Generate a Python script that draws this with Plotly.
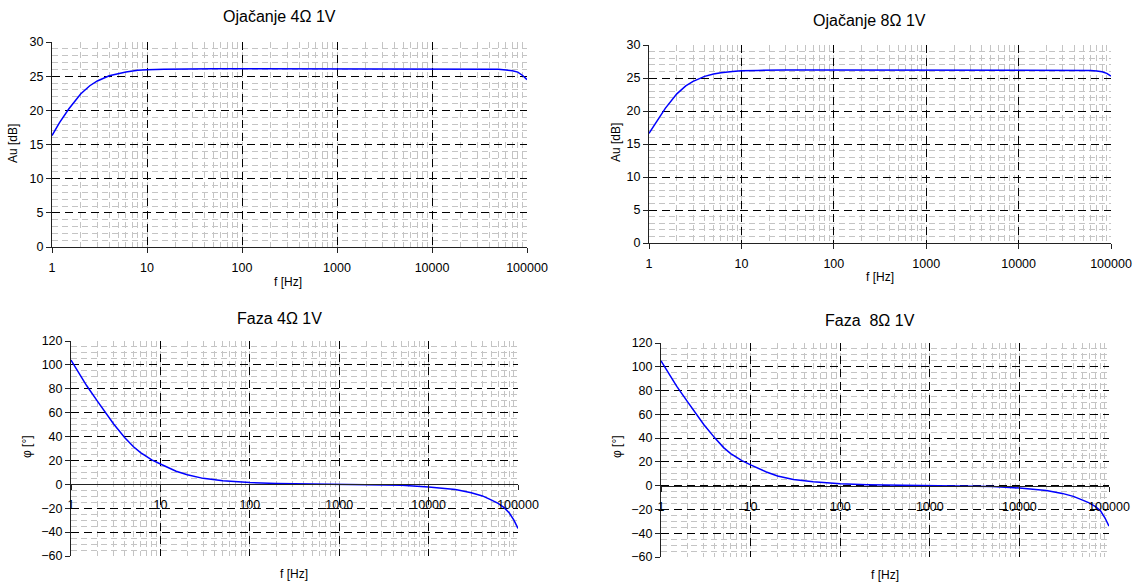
import plotly.graph_objects as go

# ---------------- data ----------------
freq = [1, 1.2, 1.5, 2, 2.5, 3, 4, 5, 6, 8, 10, 15, 20, 30, 50, 100, 200, 500,
        1000, 2000, 5000, 10000, 20000, 30000, 40000, 50000, 60000, 70000,
        80000, 90000, 100000]
gain_4ohm = [16.3, 18.2, 20.2, 22.4, 23.6, 24.3, 25.05, 25.4, 25.6, 25.85, 25.95,
             26.0, 26.05, 26.1, 26.1, 26.1, 26.1, 26.1, 26.1, 26.1, 26.1, 26.1,
             26.1, 26.1, 26.05, 26.0, 25.9, 25.8, 25.6, 25.1, 24.5]
gain_8ohm = [16.6, 18.4, 20.4, 22.6, 23.8, 24.5, 25.25, 25.6, 25.8, 26.0, 26.1,
             26.15, 26.2, 26.2, 26.2, 26.2, 26.2, 26.2, 26.2, 26.2, 26.2, 26.2,
             26.2, 26.2, 26.2, 26.15, 26.15, 26.05, 25.95, 25.7, 25.3]
phase_4ohm = [104, 94.5, 82.5, 69, 58.5, 50.5, 39, 31.5, 26.5, 20.5, 17, 11, 8,
              5, 3, 1.5, 0.8, 0.3, 0.1, -0.2, -0.8, -2.2, -4.3, -7, -9.7, -13,
              -16, -19.5, -24, -30, -37]
phase_8ohm = [105, 95.5, 83.5, 70, 59.5, 51.5, 40, 32, 27, 21, 17.5, 11.5, 8.2,
              5.2, 3.2, 1.6, 0.8, 0.3, 0.1, -0.2, -0.7, -2, -4, -6.5, -9, -12,
              -14.5, -17.5, -21, -27, -34]
freq_ticks = [1, 10, 100, 1000, 10000, 100000]
freq_tick_labels = ["1", "10", "100", "1000", "10000", "100000"]
titles = ["Ojačanje 4Ω 1V", "Ojačanje 8Ω 1V", "Faza 4Ω 1V", "Faza  8Ω 1V"]
x_title = "f [Hz]"
gain_title = "Au [dB]"
phase_title = "φ [°]"

# ---------------- layout helpers ----------------
W, H = 1135, 583
FONT = "Liberation Sans, Arial, sans-serif"

def px_x(x):
    return x / W

def px_y(y):
    return 1 - y / H

# plot areas in pixels: (left, right, top, bottom)
areas = [(52, 527, 42, 247), (649, 1111, 45, 243),
         (71, 518, 341, 556), (661, 1109, 343, 557)]

fig = go.Figure()
series = [gain_4ohm, gain_8ohm, phase_4ohm, phase_8ohm]
for i, ys in enumerate(series):
    n = "" if i == 0 else str(i + 1)
    fig.add_trace(go.Scatter(x=freq, y=ys, mode="lines",
                             line=dict(color="#0000ff", width=1.5),
                             xaxis="x" + n, yaxis="y" + n,
                             showlegend=False, hoverinfo="x+y"))

major_dash = "8px,5px"
minor_dash = "6px,4px"
tickfont = dict(family=FONT, size=12.5, color="#000")

layout = dict(width=W, height=H, margin=dict(l=0, r=0, t=0, b=0),
              paper_bgcolor="white", plot_bgcolor="white",
              font=dict(family=FONT, color="#000"))
for i, (l, r, t, b) in enumerate(areas):
    n = "" if i == 0 else str(i + 1)
    xd = [px_x(l), px_x(r)]
    yd = [px_y(b), px_y(t)]
    is_phase = i >= 2
    xa = dict(domain=xd, anchor="y" + n, type="log", range=[0, 5],
              tickmode="array", tickvals=freq_ticks, ticktext=freq_tick_labels,
              showgrid=True, gridcolor="#000", gridwidth=1, griddash=major_dash,
              minor=dict(dtick="D1", showgrid=True, gridcolor="#c4c4c4",
                         griddash=minor_dash, gridwidth=1, ticks=""),
              showline=True, linecolor="#222", linewidth=1,
              ticks="outside", ticklen=5, tickcolor="#222",
              tickfont=tickfont, ticklabelstandoff=4, zeroline=False,
              automargin=False)
    if is_phase:
        lo, hi = -60, 120
        pos = yd[0] + (yd[1] - yd[0]) * (0 - lo) / (hi - lo)
        xa.update(anchor="free", position=pos)
        ya = dict(domain=yd, anchor="x" + n, range=[lo, hi], dtick=20,
                  tick0=0,
                  minor=dict(dtick=5, showgrid=True, gridcolor="#c4c4c4",
                             griddash=minor_dash, gridwidth=1, ticks=""))
    else:
        ya = dict(domain=yd, anchor="x" + n, range=[0, 30], dtick=5, tick0=0,
                  minor=dict(dtick=1, showgrid=True, gridcolor="#c4c4c4",
                             griddash=minor_dash, gridwidth=1, ticks=""))
    ya.update(showgrid=True, gridcolor="#000", gridwidth=1, griddash=major_dash,
              showline=True, linecolor="#222", linewidth=1,
              ticks="outside", ticklen=5, tickcolor="#222",
              tickfont=tickfont, zeroline=False, automargin=False)
    layout["xaxis" + n] = xa
    layout["yaxis" + n] = ya

# titles and axis titles as annotations (pixel positions)
title_pos = [(279, 17), (869, 20), (279, 318), (870, 320)]
xtitle_pos = [(288, 282), (880, 277), (294, 574), (885, 575)]
ytitle_pos = [(13, 144), (616, 143), (27, 447), (617, 447)]
ann = []
for i in range(4):
    tx, ty = title_pos[i]
    ann.append(dict(x=px_x(tx), y=px_y(ty), xref="paper", yref="paper",
                    text=titles[i], showarrow=False,
                    font=dict(family=FONT, size=16, color="#000"),
                    xanchor="center", yanchor="middle"))
    ax_, ay_ = xtitle_pos[i]
    ann.append(dict(x=px_x(ax_), y=px_y(ay_), xref="paper", yref="paper",
                    text=x_title, showarrow=False,
                    font=dict(family=FONT, size=12, color="#000"),
                    xanchor="center", yanchor="middle"))
    yx, yy = ytitle_pos[i]
    ann.append(dict(x=px_x(yx), y=px_y(yy), xref="paper", yref="paper",
                    text=gain_title if i < 2 else phase_title, showarrow=False,
                    textangle=-90,
                    font=dict(family=FONT, size=12, color="#000"),
                    xanchor="center", yanchor="middle"))
layout["annotations"] = ann

fig.update_layout(**layout)
fig.write_html("out.html",
               config={"displayModeBar": False},
               post_script="document.body.style.margin='0';"
                           "document.body.style.overflow='hidden';")
